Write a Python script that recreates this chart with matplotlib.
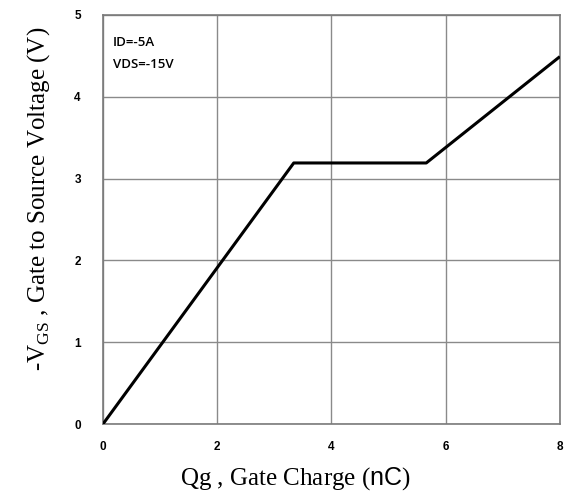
import matplotlib
matplotlib.use("Agg")
from matplotlib import pyplot as plt

plt.rcParams['mathtext.fontset'] = 'custom'
plt.rcParams['mathtext.rm'] = 'Liberation Serif'
plt.rcParams['mathtext.sf'] = 'Liberation Sans'

# gate charge curve
qg = [0, 3.34, 5.66, 8]
vgs = [0, 3.19, 3.19, 4.49]
xticks = [0, 2, 4, 6, 8]
yticks = [0, 1, 2, 3, 4, 5]

fig = plt.figure(figsize=(5.69, 4.95), dpi=100)
ax = fig.add_axes([0.181, 0.1434, 0.803, 0.8266])

ax.plot(qg, vgs, color='black', linewidth=2.2, solid_capstyle='butt', zorder=3)

ax.set_xlim(0, 8)
ax.set_ylim(0, 5)
ax.set_xticks(xticks)
ax.set_yticks(yticks)
ax.grid(True, color='#8a8a8a', linewidth=1.0)
for s in ax.spines.values():
    s.set_color('#7a7a7a')
    s.set_linewidth(1.2)
ax.tick_params(length=0)
ax.tick_params(axis='x', pad=12)
ax.tick_params(axis='y', pad=16)
for lab in ax.get_xticklabels() + ax.get_yticklabels():
    lab.set_fontfamily('Liberation Sans')
    lab.set_fontweight('bold')
    lab.set_fontsize(8.5)

ax.text(0.17, 4.66, "ID=-5A", fontsize=9.5, family='Open Sans', weight='semibold', va='center')
ax.text(0.17, 4.39, "VDS=-15V", fontsize=9.5, family='Open Sans', weight='semibold', va='center')

ax.set_xlabel(r"Qg , Gate Charge ($\mathsf{nC}$)", fontsize=18,
              family='Liberation Serif')
ax.xaxis.set_label_coords(0.42, -0.10)
ax.set_ylabel(r"-V$_{\mathrm{GS}}$ , Gate to Source Voltage (V)", fontsize=18,
              family='Liberation Serif')
ax.yaxis.set_label_coords(-0.112, 0.55)

fig.savefig("out.png", dpi=100)
